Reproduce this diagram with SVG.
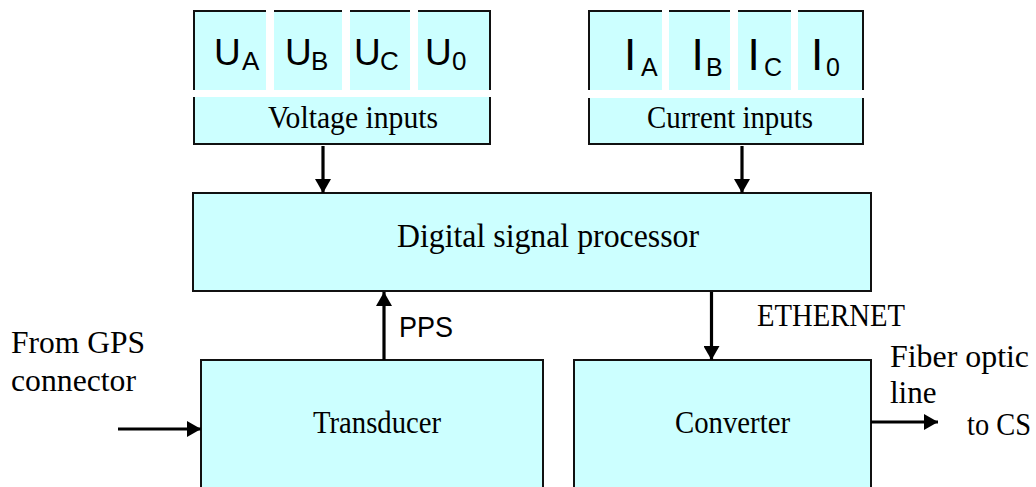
<svg xmlns="http://www.w3.org/2000/svg" width="1036" height="487" viewBox="0 0 1036 487">
<style>
.box{fill:#CCFFFF;stroke:#111;stroke-width:2}
.gap{fill:#fff}
.serif{font-family:"Liberation Serif","Times New Roman",serif;fill:#000}
.sans{font-family:"Liberation Sans",Arial,sans-serif;fill:#000}
.big{font-size:37px}
.sub{font-size:26px}
.bigI{font-size:44px}
.subI{font-size:25px}
.lbl{font-size:31px}
.conn{stroke:#000;stroke-width:3.2;fill:none}
</style>
<defs>
<marker id="ah" markerUnits="userSpaceOnUse" markerWidth="16" markerHeight="16" viewBox="0 0 14 16" refX="14" refY="8" orient="auto">
<path d="M0,0 L14,8 L0,16 Z" fill="#000"/>
</marker>
</defs>

<g id="voltage-inputs">
<rect class="box" x="194" y="11" width="296" height="133"/>
<rect class="gap" x="266" y="8" width="8" height="82"/>
<rect class="gap" x="342" y="8" width="8" height="82"/>
<rect class="gap" x="410" y="8" width="8" height="82"/>
<rect class="gap" x="191" y="90" width="302" height="7"/>
<text class="sans big" x="214" y="65">U</text><text class="sans sub" x="242" y="70">A</text>
<text class="sans big" x="285" y="65">U</text><text class="sans sub" x="311" y="70">B</text>
<text class="sans big" x="354" y="65">U</text><text class="sans sub" x="380" y="70">C</text>
<text class="sans big" x="425" y="65">U</text><text class="sans sub" x="452" y="70">0</text>
<text class="serif lbl" x="268" y="128" textLength="170" lengthAdjust="spacingAndGlyphs">Voltage inputs</text>
</g>

<g id="current-inputs">
<rect class="box" x="589" y="11" width="274" height="133"/>
<rect class="gap" x="662" y="8" width="7" height="82"/>
<rect class="gap" x="730" y="8" width="8" height="82"/>
<rect class="gap" x="791" y="8" width="7" height="82"/>
<rect class="gap" x="586" y="90" width="280" height="8"/>
<text class="sans bigI" x="624" y="70">I</text><text class="sans subI" x="641" y="76">A</text>
<text class="sans bigI" x="691.5" y="70">I</text><text class="sans subI" x="706" y="76">B</text>
<text class="sans bigI" x="747.5" y="70">I</text><text class="sans subI" x="764" y="76">C</text>
<text class="sans bigI" x="811" y="70">I</text><text class="sans subI" x="826" y="76">0</text>
<text class="serif lbl" x="647" y="128" textLength="166" lengthAdjust="spacingAndGlyphs">Current inputs</text>
</g>

<g id="dsp">
<rect class="box" x="193" y="193" width="678" height="98"/>
<text class="serif" font-size="33" x="397" y="247" textLength="302" lengthAdjust="spacingAndGlyphs">Digital signal processor</text>
</g>

<g id="transducer">
<rect class="box" x="201" y="360" width="342" height="140"/>
<text class="serif lbl" x="313" y="433" textLength="128" lengthAdjust="spacingAndGlyphs">Transducer</text>
</g>

<g id="converter">
<rect class="box" x="574" y="360" width="297" height="140"/>
<text class="serif lbl" x="675" y="433" textLength="115" lengthAdjust="spacingAndGlyphs">Converter</text>
</g>

<g id="connectors">
<line class="conn" x1="323" y1="146" x2="323" y2="193" marker-end="url(#ah)"/>
<line class="conn" x1="742" y1="146" x2="742" y2="193" marker-end="url(#ah)"/>
<line class="conn" x1="384" y1="360" x2="384" y2="292" marker-end="url(#ah)"/>
<line class="conn" x1="711.5" y1="292" x2="711.5" y2="360" marker-end="url(#ah)"/>
<line class="conn" x1="118" y1="429" x2="201" y2="429" marker-end="url(#ah)"/>
<line class="conn" x1="871" y1="422" x2="938" y2="422" marker-end="url(#ah)"/>
</g>

<g id="labels">
<text class="sans" font-size="29" x="399" y="337" textLength="54" lengthAdjust="spacingAndGlyphs">PPS</text>
<text class="serif lbl" x="757" y="326" textLength="148" lengthAdjust="spacingAndGlyphs">ETHERNET</text>
<text class="serif lbl" x="11" y="353" textLength="134" lengthAdjust="spacingAndGlyphs">From GPS</text>
<text class="serif lbl" x="11" y="391" textLength="125" lengthAdjust="spacingAndGlyphs">connector</text>
<text class="serif lbl" x="890" y="367" textLength="139" lengthAdjust="spacingAndGlyphs">Fiber optic</text>
<text class="serif lbl" x="890" y="403">line</text>
<text class="serif lbl" x="967" y="435" textLength="64" lengthAdjust="spacingAndGlyphs">to CS</text>
</g>
</svg>
